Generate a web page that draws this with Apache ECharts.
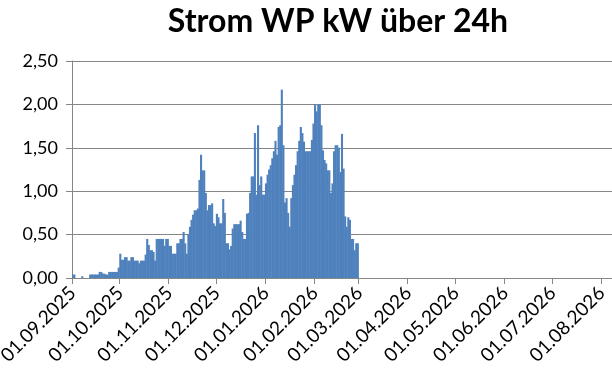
<!DOCTYPE html>
<html>
<head>
<meta charset="utf-8">
<script src="https://cdn.jsdelivr.net/npm/echarts@6/dist/echarts.min.js"></script>
<style>
html,body{margin:0;padding:0;background:#fff;}
#chart{width:612px;height:383px;}
</style>
</head>
<body>
<div id="chart"></div>
<script>
// Daily values (kW over 24h), one array per month
const sep2025 = [0.04,0.04,0,0,0,0,0.02,0,0,0,0,0.04,0.04,0.04,0.04,0.04,0.04,0.07,0.07,0.05,0.05,0.04,0.04,0.07,0.07,0.07,0.07,0.07,0.07,0.12];
const oct2025 = [0.28,0.21,0.21,0.24,0.24,0.2,0.2,0.24,0.24,0.2,0.2,0.2,0.17,0.2,0.2,0.2,0.27,0.45,0.38,0.32,0.32,0.3,0.2,0.45,0.45,0.45,0.45,0.45,0.37,0.45,0.45];
const nov2025 = [0.37,0.37,0.28,0.28,0.28,0.40,0.40,0.45,0.45,0.53,0.40,0.28,0.50,0.59,0.67,0.73,0.78,0.78,0.80,1.13,1.42,1.24,1.24,0.98,0.78,0.84,0.84,0.86,0.63,0.60];
const dec2025 = [0.74,0.70,0.63,0.63,0.91,0.75,0.40,0.40,0.33,0.37,0.57,0.62,0.62,0.62,0.62,0.66,0.53,0.45,0.45,0.74,0.75,0.98,1.17,1.17,1.67,0.96,1.76,1.07,1.17,0.96,0.96];
const jan2026 = [1.09,1.19,1.25,1.30,1.38,1.46,1.58,1.42,1.74,1.76,2.17,1.53,0.87,0.92,0.75,0.59,0.92,1.07,1.19,1.30,1.46,1.58,1.74,1.67,1.57,1.46,1.46,1.46,1.46,1.59,1.78];
const feb2026 = [2.00,1.92,2.00,2.00,1.76,1.47,1.36,1.32,1.24,1.24,0.98,1.09,1.46,1.53,1.53,1.50,1.22,1.66,1.26,0.71,0.59,0.70,0.67,0.45,0.45,0.32,0.40,0.40];

// Axis range (date categories, one per day)
const startDate = [2025, 8, 1];   // 01.09.2025 (month 0-based)
const endDate = [2026, 7, 7];     // 07.08.2026
const yTicks = [0, 0.5, 1.0, 1.5, 2.0, 2.5];

const titleText = 'Strom WP kW über 24h';

function pad(n){return (n<10?'0':'')+n;}
const categories = [];
{
  const d = new Date(Date.UTC(startDate[0], startDate[1], startDate[2]));
  const e = new Date(Date.UTC(endDate[0], endDate[1], endDate[2]));
  while (d <= e) {
    categories.push(pad(d.getUTCDate())+'.'+pad(d.getUTCMonth()+1)+'.'+d.getUTCFullYear());
    d.setUTCDate(d.getUTCDate()+1);
  }
}
const values = [].concat(sep2025, oct2025, nov2025, dec2025, jan2026, feb2026);

const isMonthStart = (idx, val) => typeof val === 'string' ? val.slice(0,3) === '01.' : categories[idx].slice(0,3) === '01.';

const chart = echarts.init(document.getElementById('chart'), null, {renderer:'canvas'});
chart.setOption({
  animation: false,
  backgroundColor: '#ffffff',
  title: {
    text: titleText,
    left: 333,
    textAlign: 'center',
    top: 1,
    textStyle: {fontFamily: 'Lato', fontWeight: 'bold', fontSize: 32, color: '#000'}
  },
  grid: {left: 72, right: 0, top: 61, bottom: 105, containLabel: false, outerBoundsMode: 'none'},
  xAxis: {
    type: 'category',
    data: categories,
    boundaryGap: true,
    axisLine: {show: true, lineStyle: {color: '#868686', width: 1}},
    axisTick: {show: true, interval: (i, v) => isMonthStart(i, v), length: 6, lineStyle: {color: '#868686'}},
    axisLabel: {
      interval: (i, v) => isMonthStart(i, v),
      rotate: 45,
      margin: 12,
      fontFamily: 'Lato',
      fontSize: 19,
      color: '#000'
    },
    splitLine: {show: false}
  },
  yAxis: {
    type: 'value',
    min: yTicks[0],
    max: yTicks[yTicks.length-1],
    interval: 0.5,
    axisLine: {show: true, lineStyle: {color: '#868686', width: 1}},
    axisTick: {show: true, length: 6, lineStyle: {color: '#868686'}},
    axisLabel: {
      formatter: v => v.toFixed(2).replace('.', ','),
      fontFamily: 'Lato',
      fontSize: 18,
      color: '#000',
      margin: 14
    },
    splitLine: {show: true, lineStyle: {color: '#868686', width: 1}}
  },
  series: [{
    type: 'bar',
    data: values,
    barWidth: 2.1,
    itemStyle: {color: '#4F81BD'}
  }]
});
</script>
</body>
</html>
